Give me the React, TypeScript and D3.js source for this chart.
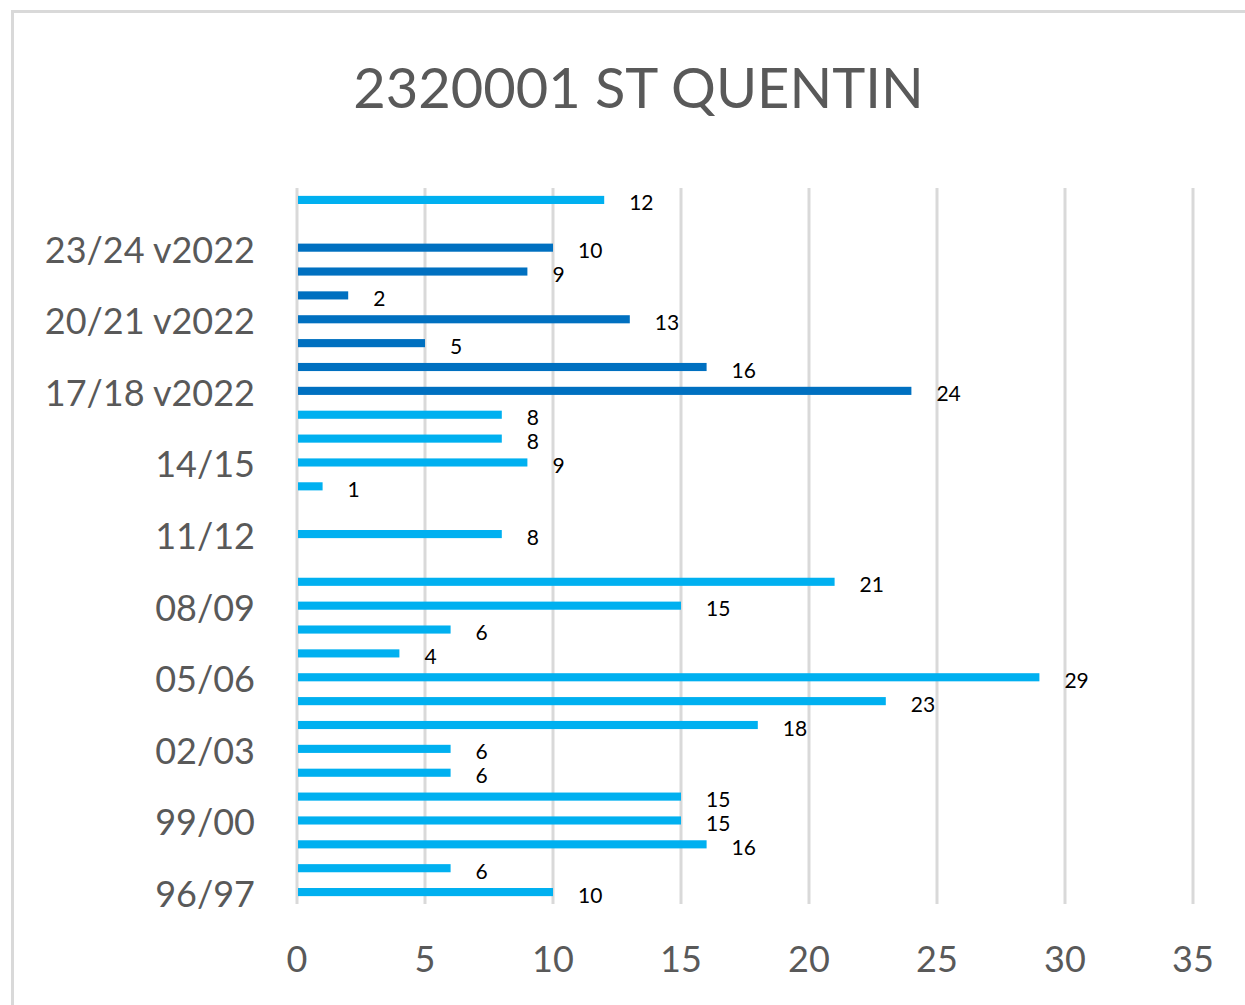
import React from "react";
import * as d3 from "d3";

const categories: string[] = [
  "96/97", "97/98", "98/99", "99/00", "00/01", "01/02", "02/03", "03/04", "04/05", "05/06",
  "06/07", "07/08", "08/09", "09/10", "10/11", "11/12", "12/13", "13/14", "14/15", "15/16",
  "16/17", "17/18 v2022", "18/19 v2022", "19/20 v2022", "20/21 v2022", "21/22 v2022",
  "22/23 v2022", "23/24 v2022", "24/25 v2022", "24/25",
];
const values: (number | null)[] = [
  10, 6, 16, 15, 15, 6, 6, 18, 23, 29,
  4, 6, 15, 21, null, 8, null, 1, 9, 8,
  8, 24, 16, 5, 13, 2, 9, 10, null, 12,
];
const isV2022: boolean[] = [
  false, false, false, false, false, false, false, false, false, false,
  false, false, false, false, false, false, false, false, false, false,
  false, true, true, true, true, true, true, true, true, false,
];
const xTicks: number[] = [0, 5, 10, 15, 20, 25, 30, 35];
const title = "2320001 ST QUENTIN";

const W = 1245;
const H = 1005;
const FONT = "Lato, Calibri, 'Open Sans', sans-serif";

export default function App() {
  const x = d3.scaleLinear().domain([0, 35]).range([297, 1193]);
  const y = d3
    .scaleBand<string>()
    .domain([...categories].reverse())
    .range([188, 904])
    .paddingInner(0.66)
    .paddingOuter(0.33);
  const bw = y.bandwidth();

  return (
    <svg
      width={W}
      height={H}
      style={{ position: "absolute", left: 0, top: 0, background: "#fff" }}
      fontFamily={FONT}
    >
      <rect x={0} y={0} width={W} height={H} fill="#fff" />
      <rect x={12.5} y={11.5} width={1400} height={1200} fill="none" stroke="#D9D9D9" strokeWidth={3} />
      <text x={638.5} y={108} textAnchor="middle" fontSize={56} fill="#595959">
        {title}
      </text>
      {xTicks.map((t) => (
        <g key={t}>
          <line x1={x(t)} x2={x(t)} y1={188} y2={904} stroke="#D9D9D9" strokeWidth={3} />
          <text x={x(t)} y={958} textAnchor="middle" dominantBaseline="central" fontSize={36} fill="#595959">
            {t}
          </text>
        </g>
      ))}
      {categories.map((c, i) =>
        i % 3 === 0 ? (
          <text
            key={c}
            x={255}
            y={(y(c) ?? 0) + bw / 2 + 1}
            textAnchor="end"
            dominantBaseline="central"
            fontSize={36}
            fill="#595959"
          >
            {c}
          </text>
        ) : null
      )}
      {categories.map((c, i) => {
        const v = values[i];
        if (v === null) return null;
        const yy = y(c) ?? 0;
        return (
          <g key={c}>
            <rect
              x={x(0) + 1}
              y={yy}
              width={x(v) - x(0) - 1}
              height={bw}
              fill={isV2022[i] ? "#0070C0" : "#00B0F0"}
            />
            <text
              x={x(v) + 25}
              y={yy + bw / 2 + 2}
              dominantBaseline="central"
              fontSize={21}
              fill="#000"
            >
              {v}
            </text>
          </g>
        );
      })}
    </svg>
  );
}
